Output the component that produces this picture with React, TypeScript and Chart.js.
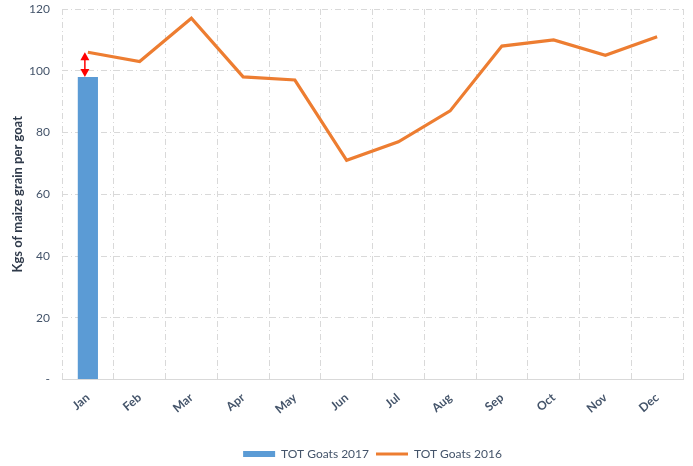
import React, { useEffect, useRef } from "react";
import { Chart, registerables } from "chart.js";

Chart.register(...registerables);

const categories = ["Jan", "Feb", "Mar", "Apr", "May", "Jun", "Jul", "Aug", "Sep", "Oct", "Nov", "Dec"];
const goats2017 = [98, null, null, null, null, null, null, null, null, null, null, null];
const goats2016 = [106, 103, 117, 98, 97, 71, 77, 87, 108, 110, 105, 111];
const yTicks = [0, 20, 40, 60, 80, 100, 120];

const arrowPlugin = {
  id: "diffArrow",
  afterDatasetsDraw(chart: any) {
    const { ctx, scales } = chart;
    const x = scales.x.getPixelForValue(0) - 3;
    const yTop = scales.y.getPixelForValue(goats2016[0] as number);
    const yBot = scales.y.getPixelForValue(goats2017[0] as number);
    ctx.save();
    ctx.strokeStyle = "#FF0000";
    ctx.fillStyle = "#FF0000";
    ctx.lineWidth = 1.5;
    ctx.beginPath();
    ctx.moveTo(x, yTop + 5);
    ctx.lineTo(x, yBot - 5);
    ctx.stroke();
    ctx.beginPath();
    ctx.moveTo(x, yTop);
    ctx.lineTo(x - 4.5, yTop + 8);
    ctx.lineTo(x + 4.5, yTop + 8);
    ctx.closePath();
    ctx.fill();
    ctx.beginPath();
    ctx.moveTo(x, yBot);
    ctx.lineTo(x - 4.5, yBot - 8);
    ctx.lineTo(x + 4.5, yBot - 8);
    ctx.closePath();
    ctx.fill();
    ctx.restore();
  },
};

export default function App() {
  const ref = useRef<HTMLCanvasElement>(null);
  useEffect(() => {
    document.body.style.margin = "0";
    const chart = new Chart(ref.current!, {
      type: "bar",
      data: {
        labels: categories,
        datasets: [
          {
            type: "bar",
            label: "TOT Goats 2017",
            data: goats2017,
            backgroundColor: "#5B9BD5",
            borderWidth: 0,
            barPercentage: 0.78,
            categoryPercentage: 0.5,
          } as any,
          {
            type: "line",
            label: "TOT Goats 2016",
            data: goats2016,
            borderColor: "#ED7D31",
            backgroundColor: "#ED7D31",
            borderWidth: 3.2,
            pointRadius: 0,
            tension: 0,
          } as any,
        ],
      },
      options: {
        responsive: false,
        animation: false,
        layout: { padding: { top: 9, right: 10, left: 10, bottom: -4 } },
        scales: {
          x: {
            grid: { color: "#D9D9D9", offset: true, drawTicks: false, lineWidth: 1 },
            border: { color: "#D9D9D9", dash: [6, 3, 1, 3] },
            ticks: {
              color: "#44546A",
              font: { family: "Lato", size: 12, weight: "bold" },
              maxRotation: 40,
              minRotation: 40,
              padding: 11,
            },
            afterFit(scale: any) {
              scale.height = 61.5;
              scale.paddingTop = 0;
              scale.paddingBottom = 0;
            },
          },
          y: {
            min: 0,
            max: 120,
            afterBuildTicks(scale: any) {
              scale.ticks = yTicks.map((v) => ({ value: v }));
            },
            grid: { color: "#D9D9D9", drawTicks: false },
            border: { display: false, dash: [6, 3, 1, 3] },
            ticks: {
              color: "#44546A",
              font: { family: "Lato", size: 12 },
              padding: 12,
              callback: (v: any) => (v === 0 ? "-" : String(v)),
            },
            title: {
              display: true,
              text: "Kgs of maize grain per goat",
              color: "#2F3A4A",
              font: { family: "Lato", size: 13, weight: "bold" },
              padding: { top: 0, bottom: 3 },
            },
            afterFit(scale: any) {
              scale.width = 52;
              scale.paddingTop = 0;
              scale.paddingBottom = 0;
            },
          },
        },
        plugins: {
          legend: {
            position: "bottom",
            fullSize: false,
            labels: {
              color: "#44546A",
              font: { family: "Lato", size: 12 },
              usePointStyle: true,
              pointStyleWidth: 32,
              boxHeight: 6,
              padding: 7,
              generateLabels(chart: any) {
                const items = (Chart.defaults.plugins.legend.labels as any).generateLabels(chart);
                items.sort((a: any, b: any) => a.datasetIndex - b.datasetIndex);
                return items.map((it: any) => {
                  const isBar = it.datasetIndex === 0;
                  return {
                    ...it,
                    pointStyle: isBar ? "rect" : "line",
                    lineWidth: isBar ? 0 : 3,
                    strokeStyle: isBar ? "#5B9BD5" : "#ED7D31",
                    fillStyle: isBar ? "#5B9BD5" : "#ED7D31",
                  };
                });
              },
            },
          },
          tooltip: { enabled: false },
        },
      },
      plugins: [arrowPlugin],
    });
    return () => chart.destroy();
  }, []);
  return (
    <div style={{ width: 693, height: 466 }}>
      <canvas ref={ref} width={693} height={466} style={{ display: "block" }} />
    </div>
  );
}
